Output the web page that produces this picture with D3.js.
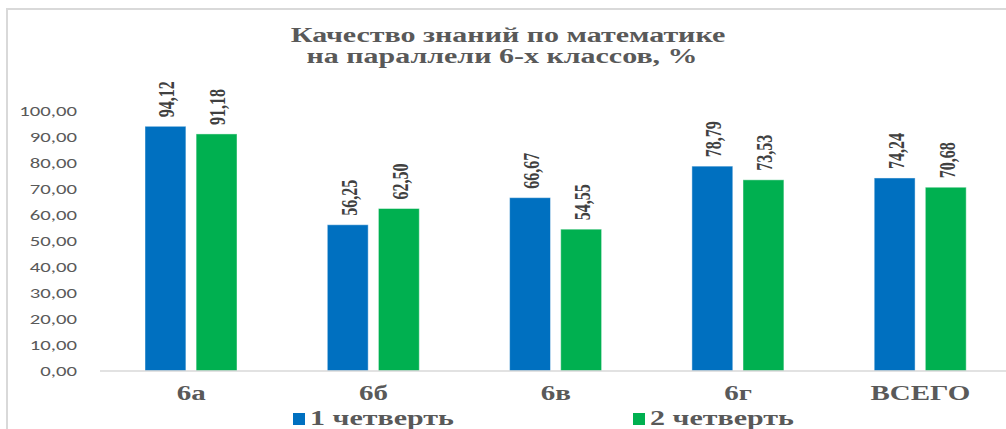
<!DOCTYPE html>
<html>
<head>
<meta charset="utf-8">
<script src="https://cdn.jsdelivr.net/npm/d3@7"></script>
<style>
  html, body { margin: 0; padding: 0; background: #fff; overflow: hidden; }
  svg { display: block; }
</style>
</head>
<body>
<svg id="chart" width="1006" height="429"></svg>
<script>
// Chart data
const categories = ["6а", "6б", "6в", "6г", "ВСЕГО"];
const seriesNames = ["1 четверть", "2 четверть"];
const quarter1 = [94.12, 56.25, 66.67, 78.79, 74.24];
const quarter2 = [91.18, 62.50, 54.55, 73.53, 70.68];
const yTicks = [0, 10, 20, 30, 40, 50, 60, 70, 80, 90, 100];
const titleLines = ["Качество знаний по математике", "на параллели 6-х классов, %"];

const colors = ["#0070C0", "#00B050"];
const fmt = v => d3.format(".2f")(v).replace(".", ",");

const svg = d3.select("#chart");
const serif = "'Liberation Serif', 'Times New Roman', serif";
const sans = "Carlito, Calibri, 'Liberation Sans', Arial, sans-serif";

// Outer frame of the chart area
svg.append("path")
  .attr("d", "M7,440 L7,9 L1020,9")
  .attr("fill", "none")
  .attr("stroke", "#d9d9d9")
  .attr("stroke-width", 2);

// Scales
const y = d3.scaleLinear().domain([0, 100]).range([371, 111]);
const x0 = d3.scaleBand().domain(categories).range([100, 1011.5]).paddingInner(0).paddingOuter(0);
const x1 = d3.scaleBand().domain(seriesNames).range([45, 137]).paddingInner(0.2);

// Title (two lines)
const tSx = 1.5;
svg.selectAll("text.title")
  .data(titleLines)
  .join("text")
  .attr("class", "title")
  .attr("transform", (d, i) => `translate(${i === 0 ? 508 : 502},${i === 0 ? 42 : 63}) scale(${tSx},1)`)
  .attr("text-anchor", "middle")
  .attr("font-family", serif)
  .attr("font-weight", "bold")
  .attr("font-size", 20)
  .attr("fill", "#595959")
  .text(d => d);

// Y axis labels
const yAxis = d3.axisLeft(y)
  .tickValues(yTicks)
  .tickSize(0)
  .tickPadding(0)
  .tickFormat(fmt);
const gy = svg.append("g").attr("transform", "translate(77,0)").call(yAxis);
gy.select(".domain").remove();
gy.selectAll("text")
  .attr("font-family", sans)
  .attr("font-size", 14)
  .attr("fill", "#595959")
  .attr("transform", "scale(1.48,1)");

// Bars
const rows = categories.map((c, i) => ({ cat: c, vals: [quarter1[i], quarter2[i]] }));
const groups = svg.selectAll("g.grp")
  .data(rows)
  .join("g")
  .attr("class", "grp")
  .attr("transform", d => `translate(${x0(d.cat)},0)`);

groups.selectAll("rect")
  .data(d => d.vals.map((v, k) => ({ v, k })))
  .join("rect")
  .attr("x", d => x1(seriesNames[d.k]))
  .attr("width", x1.bandwidth())
  .attr("y", d => y(d.v))
  .attr("height", d => y(0) - y(d.v))
  .attr("fill", d => colors[d.k])
  .attr("stroke", "rgba(255,255,255,0.45)")
  .attr("stroke-width", 1);

// Value labels, rotated above each bar
groups.selectAll("text.val")
  .data(d => d.vals.map((v, k) => ({ v, k })))
  .join("text")
  .attr("class", "val")
  .attr("transform", d => `translate(${x1(seriesNames[d.k]) + x1.bandwidth() / 2 + 1},${y(d.v) - 9}) scale(1.4,1) rotate(-90)`)
  .attr("dy", "0.35em")
  .attr("text-anchor", "start")
  .attr("font-family", serif)
  .attr("font-weight", "bold")
  .attr("font-size", 16)
  .attr("fill", "#404040")
  .text(d => fmt(d.v));

// Baseline
svg.append("line")
  .attr("x1", 100).attr("x2", 1006)
  .attr("y1", y(0)).attr("y2", y(0))
  .attr("stroke", "#d9d9d9")
  .attr("stroke-width", 1.5);

// Category labels
svg.selectAll("text.cat")
  .data(categories)
  .join("text")
  .attr("class", "cat")
  .attr("transform", d => `translate(${x0(d) + x0.bandwidth() / 2},400) scale(1.45,1)`)
  .attr("text-anchor", "middle")
  .attr("font-family", serif)
  .attr("font-weight", "bold")
  .attr("font-size", 20)
  .attr("fill", "#595959")
  .text(d => d);

// Legend
const legendX = [293, 633];
const legend = svg.selectAll("g.leg")
  .data(seriesNames)
  .join("g")
  .attr("class", "leg")
  .attr("transform", (d, i) => `translate(${legendX[i]},0)`);
legend.append("rect")
  .attr("x", 0).attr("y", 413)
  .attr("width", 12).attr("height", 12)
  .attr("fill", (d, i) => colors[i]);
legend.append("text")
  .attr("transform", "translate(17,425) scale(1.5,1)")
  .attr("font-family", serif)
  .attr("font-weight", "bold")
  .attr("font-size", 20)
  .attr("fill", "#595959")
  .text(d => d);
</script>
</body>
</html>
